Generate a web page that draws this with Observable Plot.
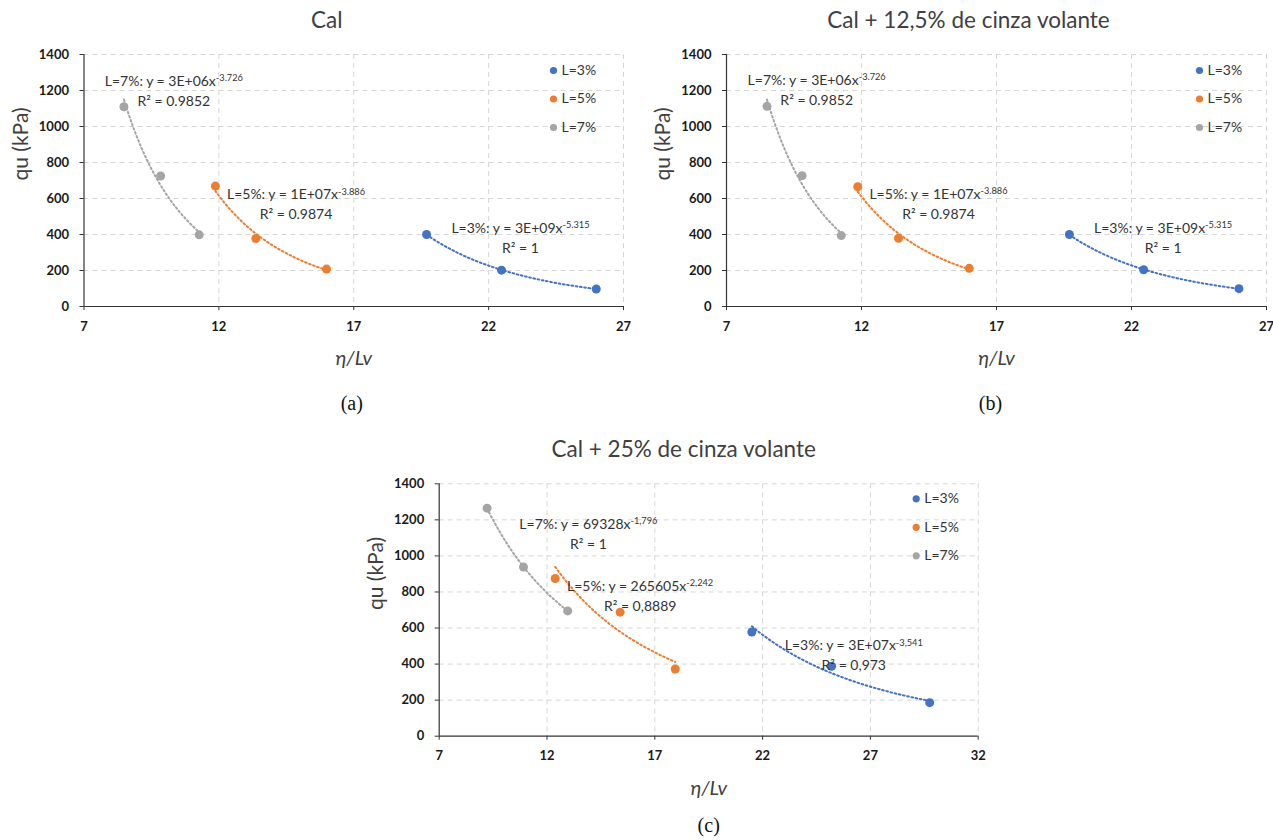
<!DOCTYPE html>
<html><head><meta charset="utf-8">
<script src="https://cdn.jsdelivr.net/npm/d3@7"></script>
<script src="https://cdn.jsdelivr.net/npm/@observablehq/plot@0.6"></script>
<style>
body{margin:0;background:#fff;}
#page{position:relative;width:1273px;height:840px;overflow:hidden;background:#fff;}
.panel{position:absolute;}
</style></head><body><div id="page"></div>
<script>
// ---------- shared ----------
const seriesNames = ["L=3%", "L=5%", "L=7%"];
const seriesColors = ["#4472C4", "#ED7D31", "#A5A5A5"];
const yTicks = [0, 200, 400, 600, 800, 1000, 1200, 1400];
const xLabel = "η/Lv";
const yLabel = "qu (kPa)";

// ---------- panel (a): Cal ----------
const aTitle = "Cal";
const aCaption = "(a)";
const aXTicks = [7, 12, 17, 22, 27];
const aX3 = [19.70, 22.48, 25.99], aY3 = [400, 202, 97];
const aX5 = [11.87, 13.37, 15.99], aY5 = [669, 378, 208];
const aX7 = [8.48, 9.84, 11.27],   aY7 = [1110, 725, 398];
const aEq = ["L=3%: y = 3E+09x^-5.315", "L=5%: y = 1E+07x^-3.886", "L=7%: y = 3E+06x^-3.726"];
const aR2 = ["R² = 1", "R² = 0.9874", "R² = 0.9852"];
const aLabX = [23.18, 14.86, 10.33];
const aLabY = [433, 621, 1252];

// ---------- panel (b): Cal + 12,5% ----------
const bTitle = "Cal + 12,5% de cinza volante";
const bCaption = "(b)";
const bXTicks = [7, 12, 17, 22, 27];
const bX3 = [19.70, 22.45, 25.98], bY3 = [400, 204, 99];
const bX5 = [11.86, 13.37, 15.99], bY5 = [665, 379, 212];
const bX7 = [8.50, 9.80, 11.25],   bY7 = [1112, 727, 394];
const bEq = ["L=3%: y = 3E+09x^-5.315", "L=5%: y = 1E+07x^-3.886", "L=7%: y = 3E+06x^-3.726"];
const bR2 = ["R² = 1", "R² = 0.9874", "R² = 0.9852"];
const bLabX = [23.17, 14.85, 10.34];
const bLabY = [436, 624, 1256];

// ---------- panel (c): Cal + 25% ----------
const cTitle = "Cal + 25% de cinza volante";
const cCaption = "(c)";
const cXTicks = [7, 12, 17, 22, 27, 32];
const cX3 = [21.50, 25.20, 29.75], cY3 = [578, 388, 186];
const cX5 = [12.38, 15.39, 17.95], cY5 = [875, 688, 373];
const cX7 = [9.22, 10.91, 12.96],  cY7 = [1265, 938, 695];
const cEq = ["L=3%: y = 3E+07x^-3,541", "L=5%: y = 265605x^-2,242", "L=7%: y = 69328x^-1,796"];
const cR2 = ["R² = 0,973", "R² = 0,8889", "R² = 1"];
const cLabX = [26.23, 16.32, 13.92];
const cLabY = [501, 833, 1176];

// ---------- helpers ----------
function rowsOf(xs, ys) {
  const rows = [];
  xs.forEach((arr, i) => arr.forEach((x, j) => rows.push({series: seriesNames[i], x, y: ys[i][j]})));
  return rows;
}
function powerFitCurves(rows) {
  const out = [];
  for (const s of seriesNames) {
    const pts = rows.filter(r => r.series === s);
    const lx = pts.map(p => Math.log(p.x)), ly = pts.map(p => Math.log(p.y));
    const mx = d3.mean(lx), my = d3.mean(ly);
    const b = d3.sum(lx.map((v, i) => (v - mx) * (ly[i] - my))) / d3.sum(lx.map(v => (v - mx) ** 2));
    const a = Math.exp(my - b * mx);
    const [x0, x1] = d3.extent(pts, p => p.x);
    const n = 60;
    for (let i = 0; i <= n; i++) {
      const x = x0 + (x1 - x0) * i / n;
      out.push({series: s, x, y: a * Math.pow(x, b)});
    }
  }
  return out;
}
function addSuperscripts(svg) {
  const walker = document.createTreeWalker(svg, NodeFilter.SHOW_TEXT);
  const nodes = [];
  while (walker.nextNode()) if (walker.currentNode.data.includes("^")) nodes.push(walker.currentNode);
  for (const node of nodes) {
    const [base, sup] = node.data.split("^");
    node.data = base;
    const t = document.createElementNS("http://www.w3.org/2000/svg", "tspan");
    t.setAttribute("dy", "-0.5em");
    t.setAttribute("font-size", "0.66em");
    t.textContent = sup;
    node.parentNode.insertBefore(t, node.nextSibling);
  }
}

function panel(cfg) {
  const rows = rowsOf(cfg.xs, cfg.ys);
  const curves = powerFitCurves(rows);
  const labels = seriesNames.map((s, i) => ({series: s, eq: cfg.eq[i], r2: cfg.r2[i], x: cfg.labX[i], y: cfg.labY[i]}));
  const grid = {stroke: "#d6d6d6", strokeOpacity: 1, strokeDasharray: "5,4"};
  const marks = [
    Plot.gridY(yTicks.filter(d => d > 0), grid),
    Plot.gridX(cfg.xTicks.slice(1), grid),
    Plot.axisY(yTicks, {tickSize: 4, tickPadding: 11, tickFormat: d => String(d), fontSize: 13, fontWeight: "bold", fill: "#1a1a1a", stroke: "#333", label: null}),
    Plot.axisX(cfg.xTicks, {tickSize: 4, tickPadding: 11, tickFormat: d => String(d), fontSize: 13, fontWeight: "bold", fill: "#1a1a1a", stroke: "#333", label: null}),
    Plot.ruleX([cfg.xTicks[0]], {stroke: "#333", strokeWidth: 1.2}),
    Plot.ruleY([0], {stroke: "#333", strokeWidth: 1.2}),
    Plot.line(curves, {x: "x", y: "y", z: "series", stroke: "series", strokeWidth: 2, strokeDasharray: "1.7,2.6"}),
    Plot.dot(rows, {x: "x", y: "y", fill: "series", r: 4.5}),
    Plot.text(labels, {x: "x", y: "y", text: "eq", textAnchor: "middle", fontSize: 14, fill: "#333"}),
    Plot.text(labels, {x: "x", y: "y", text: "r2", dy: 20, textAnchor: "middle", fontSize: 14, fill: "#333"}),
    Plot.text([cfg.title], {frameAnchor: "top", lineAnchor: "middle", dy: -34, dx: cfg.titleDx, fontSize: 22.5, fill: "#404040", text: d => d}),
    Plot.text([xLabel], {frameAnchor: "bottom", lineAnchor: "middle", dy: 52, fontSize: 20, fontStyle: "italic", fill: "#404040", text: d => d}),
    Plot.text([yLabel], {frameAnchor: "left", lineAnchor: "middle", dx: -63, rotate: -90, fontSize: 21, fill: "#404040", text: d => d}),
    Plot.text([cfg.caption], {frameAnchor: "bottom", lineAnchor: "middle", dy: cfg.capDy, dx: cfg.capDx, fontSize: 20, fontFamily: "Liberation Serif", fill: "#111", text: d => d})
  ];
  seriesNames.forEach((s, i) => {
    marks.push(Plot.dot([s], {frameAnchor: "top-right", dx: cfg.legDx, dy: cfg.legDy + 28.5 * i, r: 3.6, fill: d => d}));
    marks.push(Plot.text([s], {frameAnchor: "top-right", lineAnchor: "middle", dx: cfg.legDx + 8, dy: cfg.legDy + 28.5 * i, textAnchor: "start", fontSize: 14, fill: "#333", text: d => d}));
  });
  const svg = Plot.plot({
    width: cfg.width, height: cfg.height,
    marginLeft: cfg.ml, marginRight: cfg.mr, marginTop: cfg.mt, marginBottom: cfg.mb,
    style: {fontFamily: "Lato", fontSize: "13px", background: "transparent", overflow: "visible"},
    x: {domain: [cfg.xTicks[0], cfg.xTicks[cfg.xTicks.length - 1]]},
    y: {domain: [0, 1400]},
    color: {domain: seriesNames, range: seriesColors},
    marks
  });
  addSuperscripts(svg);
  const div = document.createElement("div");
  div.className = "panel";
  div.style.left = cfg.left + "px";
  div.style.top = cfg.top + "px";
  div.appendChild(svg);
  document.getElementById("page").appendChild(div);
}

panel({left: 0, top: 0, width: 640, height: 380, ml: 83.5, mr: 17, mt: 54, mb: 74,
  xTicks: aXTicks, xs: [aX3, aX5, aX7], ys: [aY3, aY5, aY7], eq: aEq, r2: aR2, labX: aLabX, labY: aLabY,
  title: aTitle, caption: aCaption, titleDx: -27, capDx: -2, capDy: 97, legDx: -70, legDy: 16});
panel({left: 640, top: 0, width: 633, height: 380, ml: 86, mr: 7, mt: 54, mb: 74,
  xTicks: bXTicks, xs: [bX3, bX5, bX7], ys: [bY3, bY5, bY7], eq: bEq, r2: bR2, labX: bLabX, labY: bLabY,
  title: bTitle, caption: bCaption, titleDx: -28, capDx: -6, capDy: 97, legDx: -67, legDy: 16});
panel({left: 360, top: 430, width: 640, height: 404, ml: 78.7, mr: 22.3, mt: 53.3, mb: 98.3,
  xTicks: cXTicks, xs: [cX3, cX5, cX7], ys: [cY3, cY5, cY7], eq: cEq, r2: cR2, labX: cLabX, labY: cLabY,
  title: cTitle, caption: cCaption, titleDx: -25, capDx: 0, capDy: 89, legDx: -62, legDy: 15});
</script></body></html>
